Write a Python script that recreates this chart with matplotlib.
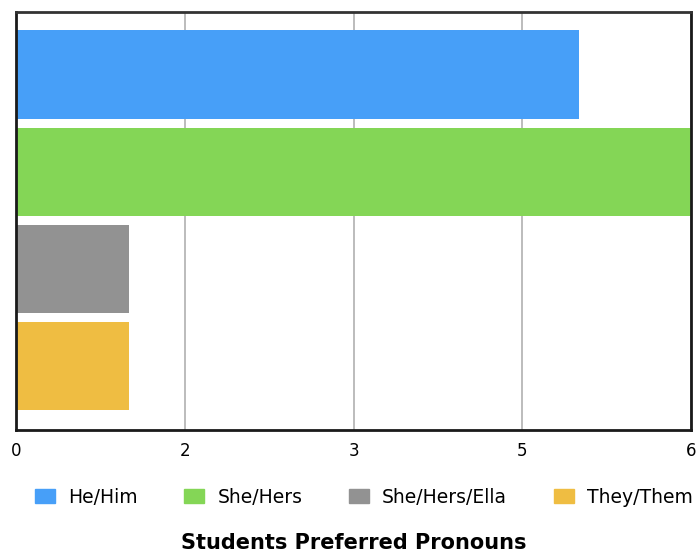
import matplotlib.pyplot as plt
from matplotlib.patches import Rectangle

plt.rcParams['font.family'] = ['DejaVu Sans']

pronouns = ["He/Him", "She/Hers", "She/Hers/Ella", "They/Them"]
counts = [5, 6, 1, 1]
colors = ["#479FF8", "#84D656", "#929292", "#EFBD42"]
tick_values = [0, 1.5, 3, 4.5, 6]
tick_labels = ["0", "2", "3", "5", "6"]

fig = plt.figure(figsize=(6.97, 5.58), dpi=100)
ax = fig.add_axes([0.023, 0.2294, 0.9684, 0.7491])

positions = list(range(len(pronouns)))
ax.barh(positions, counts, height=0.907, color=colors, zorder=2)

ax.set_xlim(0, 6)
ax.set_ylim(3.66, -0.644)
ax.set_xticks(tick_values)
ax.set_xticklabels(tick_labels, fontsize=12)
ax.set_yticks([])
ax.tick_params(axis='x', length=0, pad=9)
ax.grid(axis='x', color='#b0b0b0', linewidth=1.2, zorder=1)

for side in ['left', 'bottom', 'right']:
    ax.spines[side].set_color('#1a1a1a')
    ax.spines[side].set_linewidth(2)
ax.spines['top'].set_color('#333333')
ax.spines['top'].set_linewidth(2)

# legend built from the series colours
handles = [Rectangle((0, 0), 1, 1, color=c) for c in colors]
fig.legend(handles, pronouns, loc='center', bbox_to_anchor=(0.522, 0.109),
           ncol=4, frameon=False, fontsize=13.5, handlelength=1.07,
           handleheight=0.8, handletextpad=0.69, columnspacing=2.5)

fig.text(0.508, 0.027, "Students Preferred Pronouns", ha='center', va='center',
         fontsize=15, fontweight='bold')

fig.savefig("out.png", dpi=100)
